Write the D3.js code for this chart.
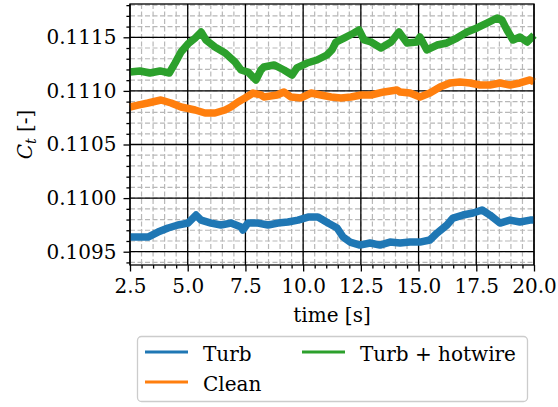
<!DOCTYPE html>
<html>
<head>
<meta charset="utf-8">
<script src="https://cdn.jsdelivr.net/npm/d3@7"></script>
<style>
  html, body { margin: 0; padding: 0; background: #fff; }
  svg { display: block; }
  text { font-family: "DejaVu Serif", serif; fill: #000; }
</style>
</head>
<body>
<script>
// Thrust coefficient time series for three configurations
const seriesNames = ["Turb", "Clean", "Turb + hotwire"];
const seriesColors = ["#1f77b4", "#ff7f0e", "#2ca02c"];

const timeTurb = [2.5, 2.85, 3.28, 3.71, 4.15, 4.58, 5.01, 5.36, 5.58, 6.01, 6.44, 6.87, 7.31, 7.39, 7.61, 8.04, 8.48, 8.91, 9.34, 9.78, 10.21, 10.64, 11.08, 11.47, 11.73, 12.03, 12.46, 12.90, 13.33, 13.76, 14.20, 14.63, 15.06, 15.49, 15.80, 16.23, 16.49, 16.92, 17.36, 17.75, 18.09, 18.53, 18.96, 19.39, 19.83, 20.0];
const ctTurb = [0.109637, 0.109637, 0.109637, 0.109683, 0.109721, 0.109749, 0.109767, 0.109842, 0.109795, 0.109767, 0.109749, 0.109767, 0.109730, 0.109702, 0.109767, 0.109767, 0.109749, 0.109767, 0.109777, 0.109795, 0.109823, 0.109823, 0.109767, 0.109721, 0.109637, 0.109590, 0.109562, 0.109581, 0.109562, 0.109590, 0.109581, 0.109590, 0.109590, 0.109609, 0.109674, 0.109749, 0.109814, 0.109842, 0.109861, 0.109889, 0.109842, 0.109767, 0.109795, 0.109777, 0.109795, 0.109795];

const timeClean = [2.5, 2.85, 3.28, 3.84, 4.28, 4.71, 5.32, 5.75, 6.18, 6.62, 6.87, 7.18, 7.48, 7.83, 8.17, 8.30, 8.87, 9.17, 9.47, 9.91, 10.34, 10.77, 11.21, 11.64, 12.07, 12.51, 12.94, 13.50, 14.07, 14.20, 14.63, 15.06, 15.49, 15.93, 16.36, 16.79, 17.23, 17.66, 18.09, 18.53, 18.96, 19.39, 19.83, 20.0];
const ctClean = [0.110850, 0.110868, 0.110887, 0.110915, 0.110887, 0.110850, 0.110822, 0.110794, 0.110794, 0.110822, 0.110850, 0.110897, 0.110934, 0.110980, 0.110962, 0.110943, 0.110962, 0.110990, 0.110943, 0.110934, 0.110980, 0.110962, 0.110943, 0.110934, 0.110943, 0.110962, 0.110962, 0.110990, 0.111008, 0.110990, 0.110980, 0.110943, 0.110980, 0.111036, 0.111074, 0.111083, 0.111074, 0.111055, 0.111055, 0.111074, 0.111055, 0.111074, 0.111102, 0.111083];

const timeHotwire = [2.5, 2.93, 3.36, 3.80, 4.20, 4.45, 4.71, 5.01, 5.32, 5.58, 5.79, 6.18, 6.62, 7.05, 7.31, 7.61, 7.96, 8.17, 8.30, 8.74, 9.17, 9.52, 9.73, 10.17, 10.60, 11.03, 11.25, 11.42, 11.77, 12.20, 12.42, 12.64, 12.94, 13.37, 13.81, 14.15, 14.50, 14.93, 15.06, 15.36, 15.80, 16.23, 16.66, 17.10, 17.53, 17.96, 18.40, 18.61, 18.83, 19.09, 19.39, 19.70, 20.0];
const ctHotwire = [0.111176, 0.111186, 0.111167, 0.111186, 0.111167, 0.111259, 0.111363, 0.111438, 0.111493, 0.111549, 0.111475, 0.111409, 0.111354, 0.111270, 0.111195, 0.111176, 0.111102, 0.111195, 0.111223, 0.111242, 0.111195, 0.111148, 0.111214, 0.111260, 0.111288, 0.111335, 0.111382, 0.111456, 0.111493, 0.111540, 0.111568, 0.111475, 0.111456, 0.111400, 0.111456, 0.111549, 0.111447, 0.111456, 0.111503, 0.111382, 0.111428, 0.111447, 0.111493, 0.111549, 0.111587, 0.111633, 0.111680, 0.111661, 0.111568, 0.111475, 0.111503, 0.111456, 0.111521];

const xMajorTicks = [2.5, 5.0, 7.5, 10.0, 12.5, 15.0, 17.5, 20.0];
const yMajorTicks = [0.1095, 0.1100, 0.1105, 0.1110, 0.1115];

const W = 558, H = 407;
const plot = { left: 130, top: 4, right: 534, bottom: 265 };

const svg = d3.select("body").append("svg")
  .attr("width", W).attr("height", H);

const x = d3.scaleLinear().domain([2.5, 20.0]).range([plot.left, plot.right]);
const y = d3.scaleLinear().domain([0.109376, 0.1118106]).range([plot.bottom, plot.top]);

const xMinorTicks = d3.range(5, 41).map(i => i * 0.5);
const yMinorTicks = d3.range(1094, 1119).map(i => i / 10000);

// minor grid (dashed grey)
const grid = svg.append("g");
grid.selectAll(".vminor").data(xMinorTicks).join("line")
  .attr("x1", d => x(d)).attr("x2", d => x(d))
  .attr("y1", plot.top).attr("y2", plot.bottom)
  .attr("stroke", "#b8b8b8").attr("stroke-width", 1.2)
  .attr("stroke-dasharray", "5,2.5");
grid.selectAll(".hminor").data(yMinorTicks.filter(d => y(d) >= plot.top && y(d) <= plot.bottom)).join("line")
  .attr("x1", plot.left).attr("x2", plot.right)
  .attr("y1", d => y(d)).attr("y2", d => y(d))
  .attr("stroke", "#b8b8b8").attr("stroke-width", 1.2)
  .attr("stroke-dasharray", "5,2.5");

// major grid (solid black)
grid.selectAll(".vmajor").data(xMajorTicks).join("line")
  .attr("x1", d => x(d)).attr("x2", d => x(d))
  .attr("y1", plot.top).attr("y2", plot.bottom)
  .attr("stroke", "#000").attr("stroke-width", 1.3);
grid.selectAll(".hmajor").data(yMajorTicks).join("line")
  .attr("x1", plot.left).attr("x2", plot.right)
  .attr("y1", d => y(d)).attr("y2", d => y(d))
  .attr("stroke", "#000").attr("stroke-width", 1.3);

// series
const series = [
  { t: timeTurb, v: ctTurb },
  { t: timeClean, v: ctClean },
  { t: timeHotwire, v: ctHotwire }
];
const line = d3.line().x(d => x(d[0])).y(d => y(d[1])).curve(d3.curveLinear);
const lines = svg.append("g");
series.forEach((s, i) => {
  lines.append("path")
    .datum(s.t.map((t, k) => [t, s.v[k]]))
    .attr("d", line)
    .attr("fill", "none")
    .attr("stroke", seriesColors[i])
    .attr("stroke-width", 7.5)
    .attr("stroke-linejoin", "round")
    .attr("stroke-linecap", "butt");
});

// axes
const fontSize = 20;
const xAxis = d3.axisBottom(x).tickValues(xMajorTicks).tickFormat(d3.format(".1f"))
  .tickSize(6.5).tickPadding(7);
const gx = svg.append("g").attr("transform", `translate(0,${plot.bottom})`).call(xAxis);
const xMinorAxis = d3.axisBottom(x).tickValues(xMinorTicks.filter(d => !xMajorTicks.includes(d)))
  .tickSize(3.6).tickFormat("");
const gxm = svg.append("g").attr("transform", `translate(0,${plot.bottom})`).call(xMinorAxis);

const yAxis = d3.axisLeft(y).tickValues(yMajorTicks).tickFormat(d3.format(".4f"))
  .tickSize(6.5).tickPadding(7);
const gy = svg.append("g").attr("transform", `translate(${plot.left},0)`).call(yAxis);
const yMinorAxis = d3.axisLeft(y)
  .tickValues(yMinorTicks.filter(d => y(d) >= plot.top && y(d) <= plot.bottom && !yMajorTicks.some(m => Math.abs(m - d) < 1e-9)))
  .tickSize(3.6).tickFormat("");
const gym = svg.append("g").attr("transform", `translate(${plot.left},0)`).call(yMinorAxis);

[gx, gxm, gy, gym].forEach(g => {
  g.select(".domain").remove();
  g.selectAll(".tick line").attr("stroke", "#000").attr("stroke-width", 1.3);
  g.selectAll(".tick text")
    .attr("font-family", "DejaVu Serif").attr("font-size", fontSize).attr("fill", "#000");
});

// frame
svg.append("rect")
  .attr("x", plot.left).attr("y", plot.top)
  .attr("width", plot.right - plot.left).attr("height", plot.bottom - plot.top)
  .attr("fill", "none").attr("stroke", "#000").attr("stroke-width", 1.3);

// axis labels
svg.append("text")
  .attr("x", (plot.left + plot.right) / 2).attr("y", 322)
  .attr("text-anchor", "middle").attr("font-size", fontSize)
  .text("time [s]");

const yl = svg.append("text")
  .attr("transform", `translate(32,${(plot.top + plot.bottom) / 2}) rotate(-90)`)
  .attr("text-anchor", "middle").attr("font-size", fontSize);
yl.append("tspan").attr("font-style", "italic").text("C");
yl.append("tspan").attr("font-style", "italic").attr("font-size", 14).attr("dy", 4).text("t");
yl.append("tspan").attr("dy", -4).text(" [-]");

// legend
const legend = svg.append("g");
legend.append("rect")
  .attr("x", 137.5).attr("y", 336.5).attr("width", 390).attr("height", 65)
  .attr("rx", 4).attr("ry", 4)
  .attr("fill", "#fff").attr("fill-opacity", 0.8)
  .attr("stroke", "#cccccc").attr("stroke-width", 1.3);
const legendPos = [
  { lx: 145, ly: 352 },
  { lx: 145, ly: 382 },
  { lx: 302, ly: 352 }
];
seriesNames.forEach((name, i) => {
  const p = legendPos[i];
  legend.append("line")
    .attr("x1", p.lx).attr("x2", p.lx + 43)
    .attr("y1", p.ly).attr("y2", p.ly)
    .attr("stroke", seriesColors[i]).attr("stroke-width", 3);
  legend.append("text")
    .attr("x", p.lx + 58).attr("y", p.ly + 9)
    .attr("font-size", fontSize)
    .text(name);
});
</script>
</body>
</html>
